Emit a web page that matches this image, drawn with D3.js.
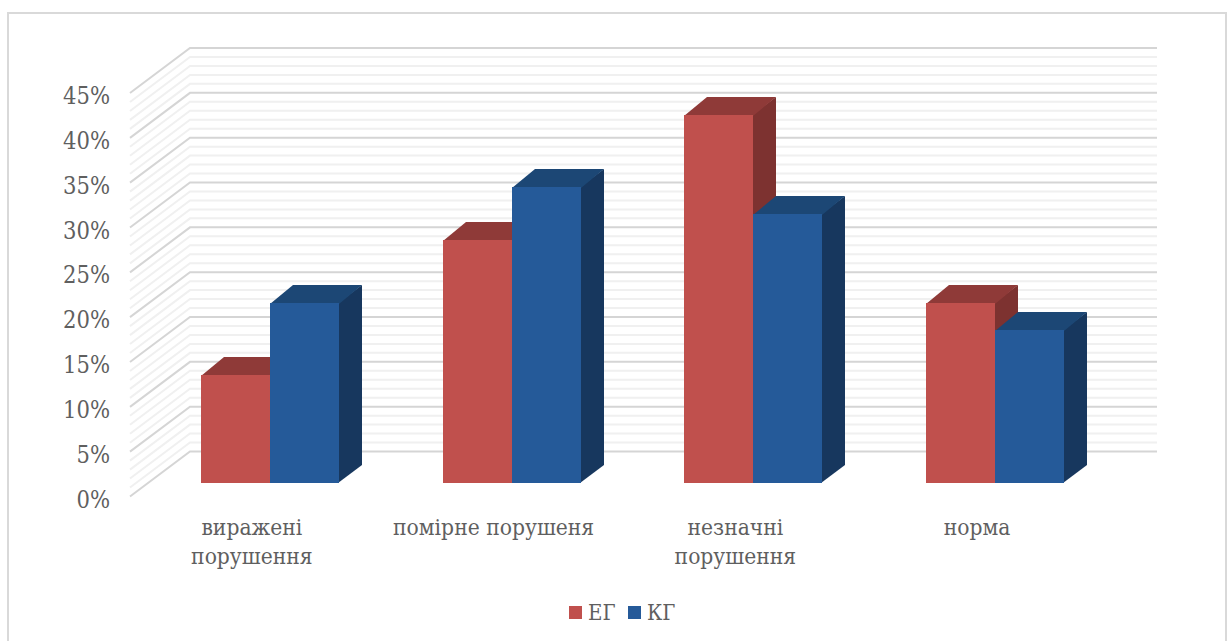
<!DOCTYPE html>
<html>
<head>
<meta charset="utf-8">
<script src="https://cdn.jsdelivr.net/npm/d3@7"></script>
<style>
html,body{margin:0;padding:0;background:#fff;overflow:hidden}
svg{display:block}
text{font-family:"DejaVu Serif Condensed","DejaVu Serif",serif;font-stretch:condensed;fill:#5f5f5f}
</style>
</head>
<body>
<svg id="chart" width="1227" height="641"></svg>
<script>
const categories = [["виражені","порушення"],["помірне порушеня"],["незначні","порушення"],["норма"]];
const seriesNames = ["ЕГ","КГ"];
const egValues = [12,27,41,20];
const kgValues = [20,33,30,17];
const majorTicks = [0,5,10,15,20,25,30,35,40,45];
const minorTicks = d3.range(0,46);
const seriesColors = {
  "ЕГ":{front:"#c0504d",top:"#8f3a38",side:"#7d3230"},
  "КГ":{front:"#255a99",top:"#1c4775",side:"#17375e"}
};

const svg = d3.select("#chart");

// Outer chart frame
svg.append("rect").attr("x",8).attr("y",13).attr("width",1218).attr("height",640)
  .attr("fill","#fff").attr("stroke","#d9d9d9").attr("stroke-width",2);

// Front-plane value scale and the oblique offsets of the 3D box
const y = d3.scaleLinear().domain([0,45]).range([496.5,93]);
const wallLeft = 130, wallDx = 60, wallDy = -45, wallRight = 1157;
const barLift = -14, barDx = 23, barDy = -18;

const x0 = d3.scaleBand().domain(d3.range(categories.length)).range([149,1116]).paddingInner(0.43).paddingOuter(0.215);
const x1 = d3.scaleBand().domain(seriesNames).range([0,x0.bandwidth()]);

// Walls: side and back gridlines, minor first so major sit on top
const grid = svg.append("g").attr("fill","none").attr("stroke-width",2);
const gridPath = v => d3.line()([
  [wallLeft,y(v)],
  [wallLeft+wallDx,y(v)+wallDy],
  [wallRight,y(v)+wallDy]
]);
grid.selectAll("path.minor").data(minorTicks.filter(v=>!majorTicks.includes(v))).join("path")
  .attr("class","minor").attr("d",gridPath).attr("stroke","#f0f0f0");
grid.selectAll("path.major").data(majorTicks).join("path")
  .attr("class","major").attr("d",gridPath).attr("stroke","#d5d5d5");

// Value axis labels
const yAxis = d3.axisLeft(y).tickValues(majorTicks).tickFormat(d=>d+"%").tickSize(0).tickPadding(0);
const axisG = svg.append("g").attr("transform","translate(110,3)").call(yAxis);
axisG.select(".domain").remove();
axisG.selectAll("text").style("font-size","23.5px").style("font-family",'"DejaVu Serif Condensed","DejaVu Serif",serif').attr("fill","#5f5f5f");

// Extruded bars, ЕГ before КГ so the blue front overlaps the red side face
const bars = svg.append("g");
const rows = [];
seriesNames.forEach((s,si)=>{
  const vals = si===0?egValues:kgValues;
  vals.forEach((v,i)=>rows.push({s,v,i}));
});
rows.sort((a,b)=>a.i-b.i);
rows.forEach(d=>{
  const c = seriesColors[d.s];
  // Snap to whole pixels so neighbouring faces join without a light seam
  const xl = Math.round(x0(d.i)+x1(d.s)), xr = Math.round(x0(d.i)+x1(d.s)+x1.bandwidth());
  const yt = Math.round(y(d.v)+barLift), yb = Math.round(y(0)+barLift);
  const g = bars.append("g");
  g.append("polygon").attr("fill",c.side)
    .attr("points",[[xr-1,yt],[xr+barDx,yt+barDy],[xr+barDx,yb+barDy],[xr-1,yb]].join(" "));
  g.append("polygon").attr("fill",c.top)
    .attr("points",[[xl,yt+1],[xl+barDx,yt+barDy],[xr+barDx,yt+barDy],[xr,yt+1]].join(" "));
  g.append("rect").attr("fill",c.front).attr("x",xl).attr("y",yt).attr("width",xr-xl).attr("height",yb-yt);
});

// Category labels
const catG = svg.append("g").attr("text-anchor","middle").style("font-size","22.6px");
categories.forEach((lines,i)=>{
  const cx = x0(i)+x0.bandwidth()/2-18;
  lines.forEach((t,j)=>{
    catG.append("text").attr("x",cx).attr("y",535+j*29).text(t);
  });
});

// Legend
const legendX = d3.scaleOrdinal().domain(seriesNames).range([569,628]);
const legend = svg.append("g");
seriesNames.forEach(s=>{
  legend.append("rect").attr("x",legendX(s)).attr("y",606).attr("width",13).attr("height",13).attr("fill",seriesColors[s].front);
  legend.append("text").attr("x",legendX(s)+19).attr("y",620).style("font-size","22px").text(s);
});
</script>
</body>
</html>
